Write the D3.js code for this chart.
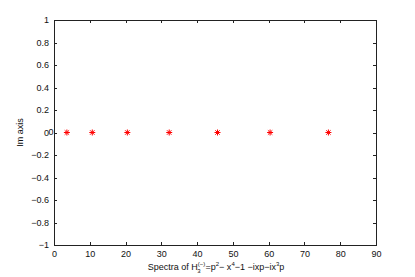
<!DOCTYPE html>
<meta charset="utf-8">
<head>
  <style>
    body { margin: 0; background: #fff; }
    text { font-family: "Liberation Sans", Arial, sans-serif; }
  </style>
</head>
<body>
  <svg id="viz" width="415" height="277"></svg>
  <script src="https://d3js.org/d3.v7.min.js"></script>
  <script>
    var reParts = [3.6, 10.7, 20.5, 32.2, 45.7, 60.4, 76.7];
    var imParts = [0, 0, 0, 0, 0, 0, 0];
    var xTicks = [0, 10, 20, 30, 40, 50, 60, 70, 80, 90];
    var yTicks = [-1, -0.8, -0.6, -0.4, -0.2, 0, 0.2, 0.4, 0.6, 0.8, 1];

    function drawChart() {
      var x0 = 54, x1 = 376, y0 = 20, y1 = 245;
      var svg = d3.select("#viz");

      var x = d3.scaleLinear().domain([0, 90]).range([x0, x1]);
      var y = d3.scaleLinear().domain([-1, 1]).range([y1, y0]);

      var fmt = function (d) { return d === 0 ? "0" : d3.format("")(d).replace("-", "\u2212"); };

      // box
      svg.append("rect")
        .attr("x", x0).attr("y", y0)
        .attr("width", x1 - x0).attr("height", y1 - y0)
        .attr("fill", "none").attr("stroke", "#222").attr("stroke-width", 1)
        .attr("shape-rendering", "crispEdges");

      svg.append("g").attr("transform", "translate(0," + y1 + ")")
        .call(d3.axisBottom(x).tickValues(xTicks).tickSize(-3).tickPadding(6).tickFormat(fmt));
      svg.append("g").attr("transform", "translate(0," + y0 + ")")
        .call(d3.axisTop(x).tickValues(xTicks).tickSize(-3).tickFormat(""));
      svg.append("g").attr("transform", "translate(" + x0 + ",0)")
        .call(d3.axisLeft(y).tickValues(yTicks).tickSize(-3).tickPadding(5).tickFormat(fmt));
      svg.append("g").attr("transform", "translate(" + x1 + ",0)")
        .call(d3.axisRight(y).tickValues(yTicks).tickSize(-3).tickFormat(""));

      svg.selectAll(".domain").remove();
      svg.selectAll(".tick line").attr("stroke", "#222").attr("shape-rendering", "crispEdges");
      svg.selectAll(".tick text").attr("font-size", 9).attr("fill", "#111")
        .attr("font-family", "'Liberation Sans', Arial, sans-serif");

      // overlapping extra zero label at origin (as in the picture)
      svg.append("text").attr("x", 51).attr("y", y(0)).attr("dy", "0.32em")
        .attr("text-anchor", "middle").attr("font-size", 9).attr("fill", "#111").text("0");

      // asterisk markers
      var pts = reParts.map(function (r, i) { return [r, imParts[i]]; });
      var a = 3, b = 2.2;
      svg.append("g").selectAll("path").data(pts).enter().append("path")
        .attr("transform", function (d) { return "translate(" + x(d[0]) + "," + y(d[1]) + ")"; })
        .attr("d", "M" + (-a) + ",0L" + a + ",0M0," + (-a) + "L0," + a +
          "M" + (-b) + "," + (-b) + "L" + b + "," + b + "M" + (-b) + "," + b + "L" + b + "," + (-b))
        .attr("stroke", "#ff0000").attr("stroke-width", 1).attr("fill", "none");

      // axis labels
      svg.append("text").attr("transform", "translate(23," + ((y0 + y1) / 2) + ") rotate(-90)")
        .attr("text-anchor", "middle").attr("font-size", 9).attr("fill", "#111").text("Im axis");

      var lab = svg.append("text").attr("x", (x0 + x1) / 2 + 1).attr("y", 270)
        .attr("text-anchor", "middle").attr("font-size", 9).attr("fill", "#111");
      lab.append("tspan").text("Spectra of H");
      lab.append("tspan").attr("font-size", 6).attr("dy", -4).text("(\u2212)");
      lab.append("tspan").attr("font-size", 6).attr("dy", 7).attr("dx", -8).text("3");
      lab.append("tspan").attr("dy", -3).attr("dx", 5).text("=p");
      lab.append("tspan").attr("font-size", 6).attr("dy", -4).text("2");
      lab.append("tspan").attr("dy", 4).text("\u2212 x");
      lab.append("tspan").attr("font-size", 6).attr("dy", -4).text("4");
      lab.append("tspan").attr("dy", 4).text("\u22121 \u2212ixp\u2212ix");
      lab.append("tspan").attr("font-size", 6).attr("dy", -4).text("3");
      lab.append("tspan").attr("dy", 4).text("p");
    }

    drawChart();
  </script>
</body>
</html>
